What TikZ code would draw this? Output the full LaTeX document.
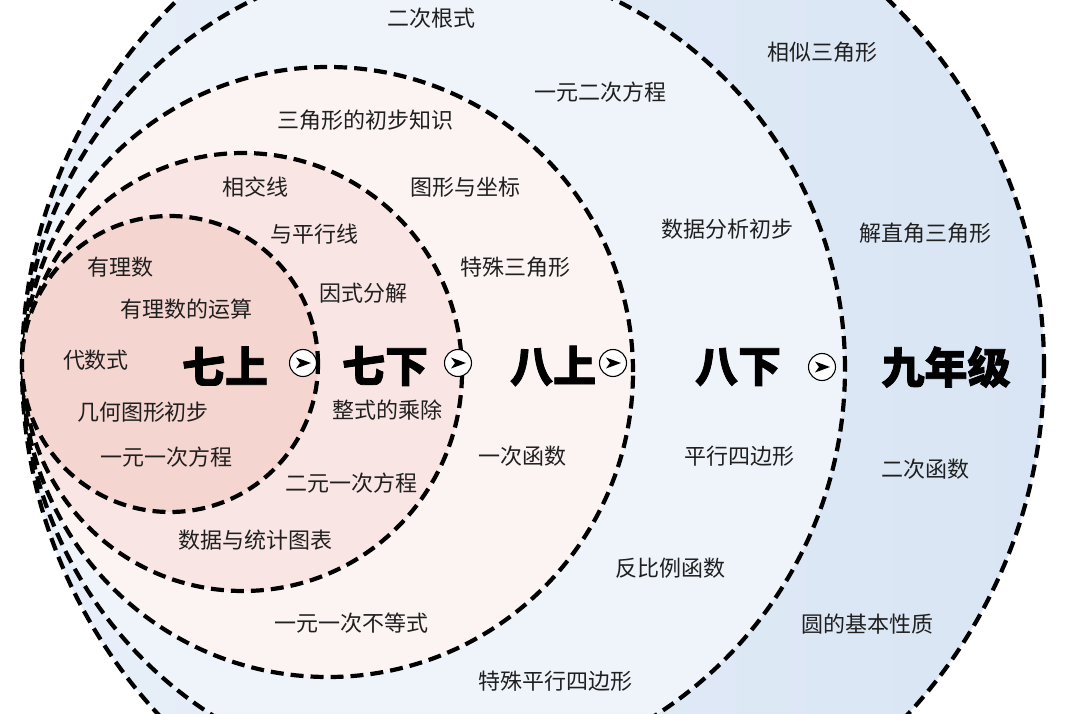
\documentclass[tikz,border=0pt]{standalone}
\usepackage{fontspec}
\setmainfont{Noto Sans CJK SC}
\newfontfamily\cjkfont{Noto Sans CJK SC}
\newfontfamily\titlefont[BoldFeatures={FakeBold=1.8}]{Noto Sans CJK SC}
\usetikzlibrary{calc}
\definecolor{ringA}{HTML}{F5D5CF}
\definecolor{ringB}{HTML}{F9E6E4}
\definecolor{ringC}{HTML}{FCF3F3}
\definecolor{ringD}{HTML}{EFF4FB}
\definecolor{ringEl}{HTML}{E8EFF9}
\definecolor{ringEr}{HTML}{D9E5F4}
\tikzset{
  ring/.style={draw=black, line width=4.2pt, dash pattern=on 13pt off 7pt},
  topic/.style={font=\cjkfont\fontsize{22}{24}\selectfont, inner sep=0pt, text=black!88},
  grade/.style={font=\titlefont\bfseries\fontsize{43}{46}\selectfont, inner sep=0pt, text=black},
  badge/.style={circle, draw=black, line width=1.1pt, fill=white, minimum size=27pt, inner sep=0pt},
}
\begin{document}
\begin{tikzpicture}[x=1pt,y=-1pt]
\useasboundingbox (0,0) rectangle (1080,714);
\clip (0,0) rectangle (1080,714);
\fill[white] (0,0) rectangle (1080,714);
% rings
\shade[left color=ringEl, right color=ringEr] (533,367) circle[radius=511pt];
\draw[ring] (533,367) circle[radius=511pt];
\fill[ringD] (434,369) circle[radius=411pt];
\draw[ring] (434,369) circle[radius=411pt];
\fill[ringC] (328,372) circle[radius=305pt];
\draw[ring] (328,372) circle[radius=305pt];
\fill[ringB] (243,372) circle[radius=219pt];
\draw[ring] (243,372) circle[radius=219pt];
\fill[ringA] (170,364) circle[radius=148pt];
\draw[ring] (170,364) circle[radius=148pt];
% grade titles
\node[grade] (g1) at (225,366) {七上};
\node[grade] (g2) at (385,366) {七下};
\node[grade] (g3) at (553,366) {八上};
\node[grade] (g4) at (738,367) {八下};
\node[grade] (g5) at (946,367) {九年级};
% badges
\node[badge] (b1) at (303,363) {};
\node[badge] (b2) at (458,363) {};
\node[badge] (b3) at (613,363) {};
\node[badge] (b4) at (822,367) {};
\foreach \b in {b1,b2,b3,b4}{
  \fill[black, shift={(\b.center)}] (-7,-5.5) -- (8,0) -- (-7,5.5) -- (-3,0) -- cycle;
}
% topics
\node[topic] (t1) at (431,18) {二次根式};
\node[topic] (t2) at (822,52) {相似三角形};
\node[topic] (t3) at (600,92) {一元二次方程};
\node[topic] (t4) at (365,120) {三角形的初步知识};
\node[topic] (t5) at (255,187) {相交线};
\node[topic] (t6) at (465,187) {图形与坐标};
\node[topic] (t7) at (727,229) {数据分析初步};
\node[topic] (t8) at (925,233) {解直角三角形};
\node[topic] (t9) at (314,234) {与平行线};
\node[topic] (t10) at (120,267) {有理数};
\node[topic] (t11) at (515,267) {特殊三角形};
\node[topic] (t12) at (363,293) {因式分解};
\node[topic] (t13) at (186,309) {有理数的运算};
\node[topic] (t14) at (96,360) {代数式};
\node[topic] (t15) at (387,410) {整式的乘除};
\node[topic] (t16) at (143,412) {几何图形初步};
\node[topic] (t17) at (522,456) {一次函数};
\node[topic] (t18) at (739,456) {平行四边形};
\node[topic] (t19) at (166,457) {一元一次方程};
\node[topic] (t20) at (925,469) {二次函数};
\node[topic] (t21) at (351,483) {二元一次方程};
\node[topic] (t22) at (255,540) {数据与统计图表};
\node[topic] (t23) at (670,568) {反比例函数};
\node[topic] (t24) at (351,623) {一元一次不等式};
\node[topic] (t25) at (867,624) {圆的基本性质};
\node[topic] (t26) at (555,681) {特殊平行四边形};
\end{tikzpicture}
\end{document}
